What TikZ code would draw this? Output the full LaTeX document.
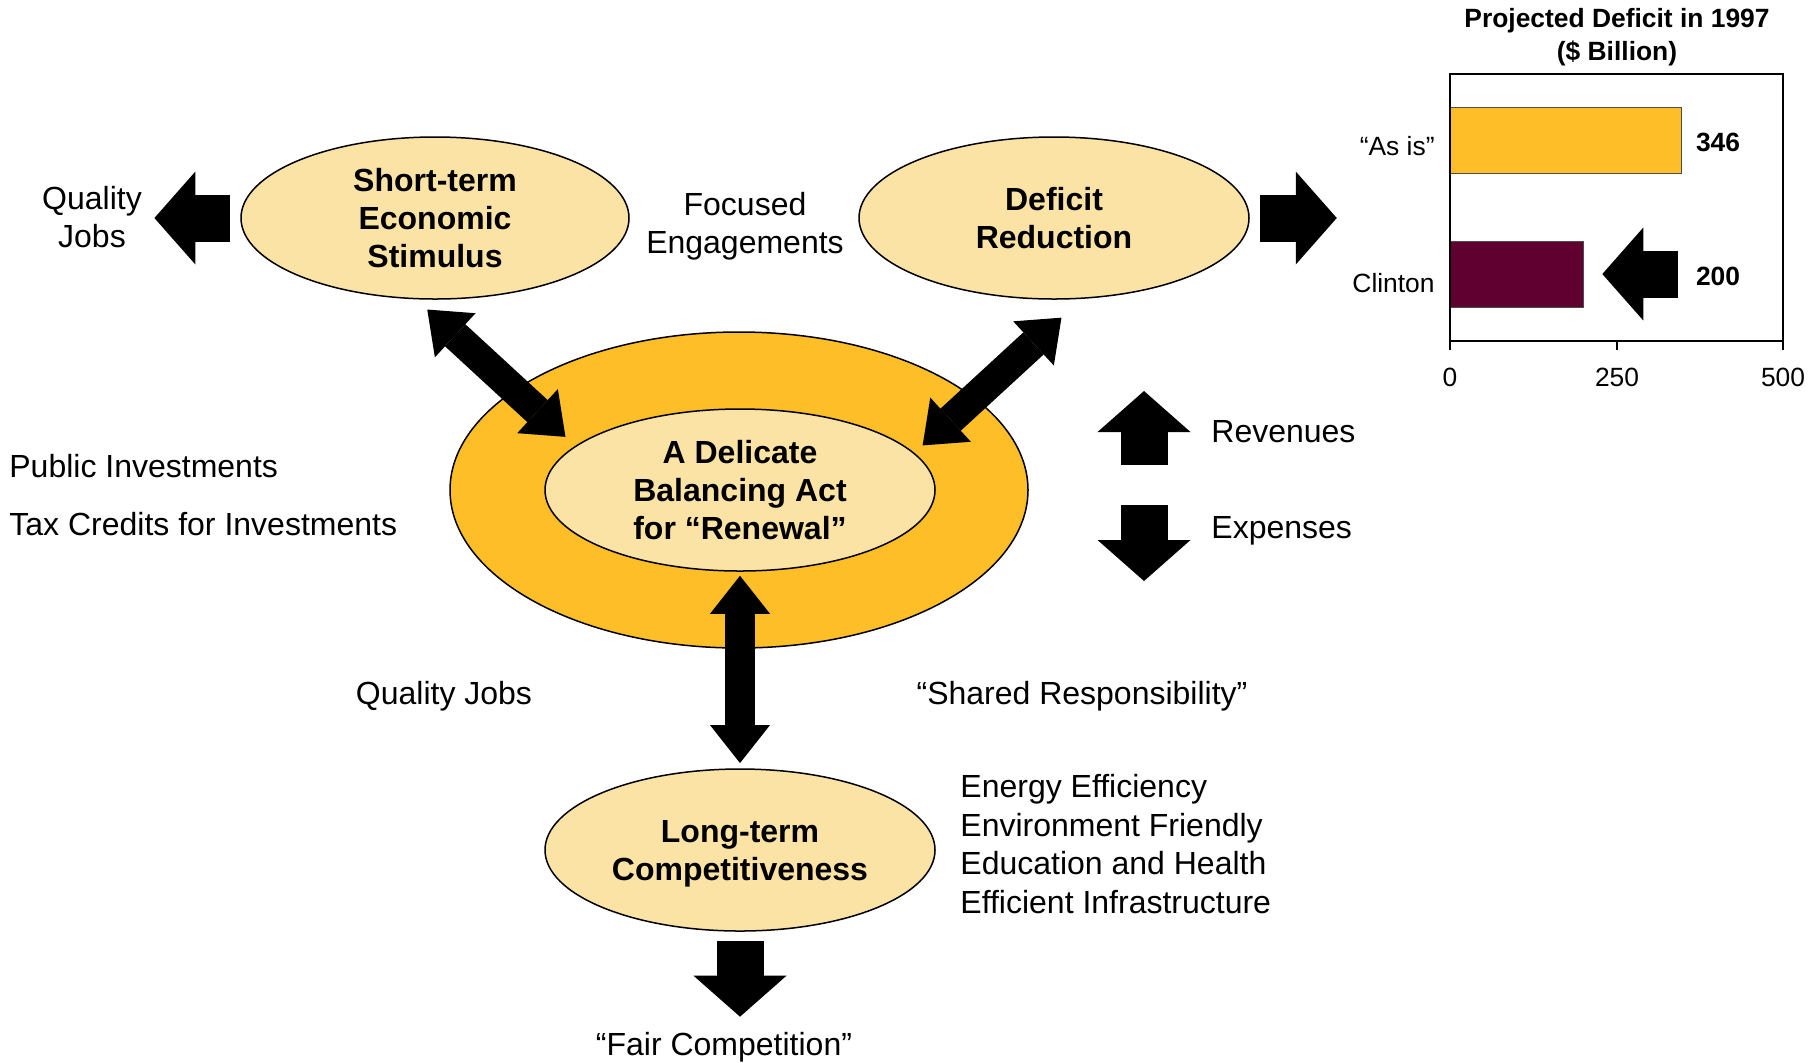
\documentclass[tikz,border=0pt]{standalone}
\usepackage{fontspec}
\setmainfont{Liberation Sans}
\usetikzlibrary{arrows.meta, shapes.geometric}
\definecolor{paleyel}{HTML}{FAE3A5}
\definecolor{bargold}{HTML}{FDBE28}
\definecolor{barmaroon}{HTML}{600030}
\tikzset{
  bubble/.style={ellipse, draw, line width=0.75pt, fill=paleyel, inner sep=0pt,
    minimum width=195pt, minimum height=81pt, align=center,
    font=\bfseries\fontsize{16}{19}\selectfont},
  txt/.style={inner sep=0pt, align=center, font=\fontsize{16}{19.25}\selectfont},
  small/.style={inner sep=0pt, align=center, font=\fontsize{13.2}{16.2}\selectfont},
  bar/.style={draw=black!70, line width=0.5pt, inner sep=0pt, minimum height=33pt, anchor=west},
  dblarrow/.style={line width=15pt,
    {Triangle[length=19pt,width=30pt,line width=0pt]}-{Triangle[length=19pt,width=30pt,line width=0pt]}},
  blockarrow/.style={line width=23.5pt, -{Triangle[length=20.5pt,width=46.5pt,line width=0pt]}},
}

\begin{document}
\begin{tikzpicture}[x=0.5pt, y=-0.5pt]
\useasboundingbox (0,0) rectangle (1818,1062);
\node[ellipse, draw, line width=0.75pt, fill=bargold, minimum width=289pt, minimum height=158pt] (ring) at (739,490) {};
\node[bubble] (core) at (740,490) {A Delicate\\Balancing Act\\for “Renewal”};
\node[bubble, minimum width=194pt] (stim) at (435,218) {Short-term\\Economic\\Stimulus};
\node[bubble] (defred) at (1054,218) {Deficit\\Reduction};
\node[bubble, text depth=0pt] (longt) at (740,850) {Long-term\\Competitiveness};

\node[txt] (qjobs) at (92,217) {Quality\\Jobs};
\node[txt] (focus) at (745,226) {Focused\\Engagements};
\node[txt, anchor=west] (pubinv) at (9,466) {Public Investments};
\node[txt, anchor=west] (taxcr) at (9,524) {Tax Credits for Investments};
\node[txt, anchor=west] (rev) at (1211,432) {Revenues};
\node[txt, anchor=west] (exp) at (1211,531) {Expenses};
\node[txt] (qjobs2) at (444,696) {Quality Jobs};
\node[txt] (shared) at (1082,696) {“Shared Responsibility”};
\node[txt, anchor=west, align=left] (goals) at (960,844) {Energy Efficiency\\Environment Friendly\\Education and Health\\Efficient Infrastructure};
\node[txt] (fair) at (724,1047) {“Fair Competition”};

\draw[dblarrow, shorten <=7.5pt, shorten >=6.65pt] (stim.257) -- (core.165);
\draw[dblarrow, shorten <=13.85pt, shorten >=5.55pt] (defred.289) -- (core.12);
\draw[dblarrow, shorten <=2pt, shorten >=2.6pt] (core.south) -- (longt.north);
\draw[blockarrow, shorten <=5.1pt, shorten >=6.1pt] (stim.west) -- (stim.west -| qjobs.east);
\draw[blockarrow, shorten <=4.9pt] (defred.east) -- ++(87,0);
\draw[blockarrow, shorten <=4.6pt, shorten >=7.5pt] (longt.south) -- (longt.south |- fair.north);
\coordinate (rev0) at (1144,465);
\coordinate (exp0) at (1144,505);
\draw[blockarrow] (rev0) -- ++(0,-74);
\draw[blockarrow] (exp0) -- ++(0,76);

\node[small, font=\bfseries\fontsize{13.2}{16.2}\selectfont] (title) at (1617,37) {Projected Deficit in 1997\\(\$ Billion)};
\node[bar, fill=bargold, minimum width=115.35pt] (asis) at (1450,140.5) {};
\node[bar, fill=barmaroon, minimum width=66.65pt] (clin) at (1450,274) {};
\draw[line width=0.9pt] (1450,350) -- (1450,74) -- (1783,74) -- (1783,350);
\draw[line width=0.9pt] (1450,341) -- (1783,341) (1617,341) -- (1617,350);
\node[small, anchor=east] (asislbl) at (1435,146) {“As is”};
\node[small, anchor=east] (clinlbl) at (1435,283) {Clinton};
\node[small, font=\bfseries\fontsize{13.2}{16.2}\selectfont] (v346) at (1718,142) {346};
\node[small, font=\bfseries\fontsize{13.2}{16.2}\selectfont] (v200) at (1718,276) {200};
\node[small] (t0) at (1450,377) {0};
\node[small] (t250) at (1617,377) {250};
\node[small] (t500) at (1783,377) {500};
\coordinate (cpt) at (1678,274);
\draw[blockarrow, shorten >=9pt] (cpt) -- (clin.east);
\end{tikzpicture}
\end{document}
